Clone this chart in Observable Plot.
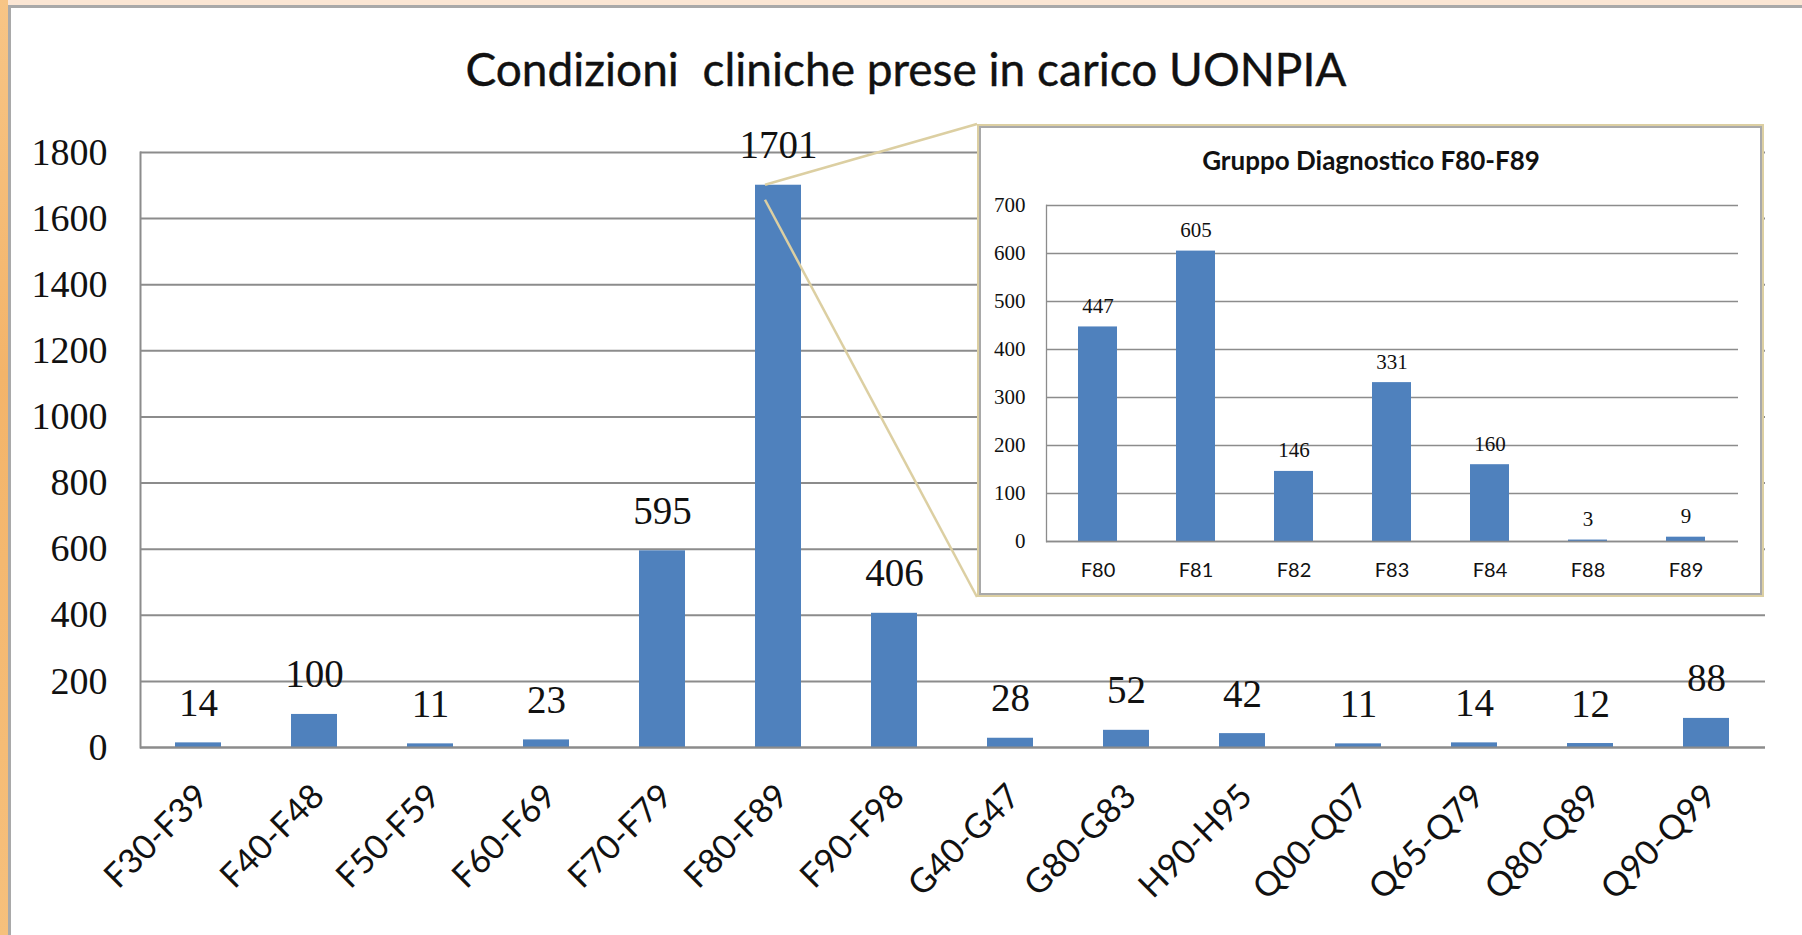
<!DOCTYPE html>
<html><head><meta charset="utf-8">
<script src="https://cdn.jsdelivr.net/npm/d3@7"></script>
<script src="https://cdn.jsdelivr.net/npm/@observablehq/plot@0.6"></script>
<style>
html,body{margin:0;padding:0;}
body{width:1802px;height:935px;overflow:hidden;background:#fbe6d4;}
#stage{position:relative;width:1802px;height:935px;overflow:hidden;}
#strip{position:absolute;left:0;top:0;width:8px;height:935px;background:linear-gradient(180deg,#f7c586,#f3b46a 40%,#f6c07c);}
#panel{position:absolute;left:8px;top:5px;width:1810px;height:940px;background:#fff;border-left:3px solid #a9a9a9;border-top:3px solid #a9a9a9;box-sizing:border-box;}
#title{position:absolute;left:0;top:46px;width:1812px;text-align:center;font-family:Lato,sans-serif;font-size:46px;line-height:46px;color:#111;white-space:pre;-webkit-text-stroke:0.4px #111;}
#main{position:absolute;left:0;top:0;}
#links{position:absolute;left:0;top:0;pointer-events:none;}
#inset{position:absolute;left:977px;top:124px;width:787px;height:473px;background:#fff;}
#insetBorder{position:absolute;left:977px;top:124px;width:787px;height:473px;box-sizing:border-box;border:2px solid #dccfa2;box-shadow:inset 0 0 0 2px #a9a9a9;pointer-events:none;}
</style></head>
<body>
<div id="stage">
  <div id="strip"></div>
  <div id="panel"></div>
  <div id="main"></div>
  <div id="title">Condizioni  cliniche prese in carico UONPIA</div>
  <svg id="links" width="1802" height="935"></svg>
  <div id="inset"></div>
  <div id="insetBorder"></div>
</div>
<script>
// ---- main chart data ----
const categories = ["F30-F39","F40-F48","F50-F59","F60-F69","F70-F79","F80-F89","F90-F98","G40-G47","G80-G83","H90-H95","Q00-Q07","Q65-Q79","Q80-Q89","Q90-Q99"];
const counts = [14,100,11,23,595,1701,406,28,52,42,11,14,12,88];
const yTicks = [0,200,400,600,800,1000,1200,1400,1600,1800];

// ---- inset data ----
const insetTitle = "Gruppo Diagnostico F80-F89";
const subCategories = ["F80","F81","F82","F83","F84","F88","F89"];
const subCounts = [447,605,146,331,160,3,9];
const subTicks = [0,100,200,300,400,500,600,700];

const zoomCategory = "F80-F89";

const mainData = categories.map((c,i)=>({cat:c, n:counts[i]}));
const subData = subCategories.map((c,i)=>({cat:c, n:subCounts[i]}));

const BLUE = "#4f81bd";
const GRID = "#8c8c8c";
const serif = "Liberation Serif, Times New Roman, serif";
const sans = "Lato, sans-serif";
const plain = d => String(d);

const main = Plot.plot({
  width:1802, height:935,
  marginLeft:140, marginRight:37, marginTop:152, marginBottom:188,
  style:{background:"transparent", overflow:"visible", color:"#111"},
  x:{domain:categories, paddingInner:0.6, paddingOuter:0.3, axis:null},
  y:{domain:[0,1800], axis:null},
  marks:[
    Plot.gridY(yTicks,{stroke:GRID, strokeOpacity:1, strokeWidth:2}),
    Plot.frame({anchor:"left", stroke:GRID, strokeWidth:2}),
    Plot.barY(mainData,{x:"cat", y:"n", fill:BLUE}),
    Plot.ruleY([0],{stroke:GRID, strokeWidth:2}),
    Plot.text(mainData,{x:"cat", y:"n", text:d=>String(d.n), dy:-27, lineAnchor:"bottom", fontSize:39, fontFamily:serif, fill:"#111"}),
    Plot.axisY(yTicks,{tickSize:0, tickPadding:33, tickFormat:plain, fontSize:38, fontFamily:serif, fill:"#111", label:null}),
    Plot.axisX(categories,{tickSize:0, tickPadding:0, tickRotate:-45, textAnchor:"end", lineAnchor:"middle", dy:43, dx:4, fontSize:34, fontFamily:sans, fill:"#111", label:null})
  ]
});
document.getElementById("main").appendChild(main);

const inset = Plot.plot({
  width:787, height:473,
  marginLeft:69, marginRight:26, marginTop:81, marginBottom:56,
  style:{background:"transparent", overflow:"visible", color:"#111"},
  x:{domain:subCategories, paddingInner:0.6, paddingOuter:0.3, axis:null},
  y:{domain:[0,700], axis:null},
  marks:[
    Plot.gridY(subTicks,{stroke:GRID, strokeOpacity:1, strokeWidth:1.3}),
    Plot.frame({anchor:"left", stroke:GRID, strokeWidth:1.3}),
    Plot.barY(subData,{x:"cat", y:"n", fill:BLUE}),
    Plot.ruleY([0],{stroke:GRID, strokeWidth:1.3}),
    Plot.text(subData,{x:"cat", y:"n", text:d=>String(d.n), dy:-14, lineAnchor:"bottom", fontSize:21, fontFamily:serif, fill:"#111"}),
    Plot.axisY(subTicks,{tickSize:0, tickPadding:21, tickFormat:plain, fontSize:21, fontFamily:serif, fill:"#111", label:null}),
    Plot.axisX(subCategories,{tickSize:0, tickPadding:21, fontSize:20, fontFamily:sans, fill:"#111", label:null}),
    Plot.text([insetTitle],{frameAnchor:"top", dy:-44, dx:-21.5, lineAnchor:"middle", fontSize:26, fontWeight:"bold", fontFamily:sans, fill:"#111"})
  ]
});
document.getElementById("inset").appendChild(inset);

// connector lines from the zoomed bar to the inset corners
const xs = main.scale("x"), ys = main.scale("y");
const bx = xs.apply(zoomCategory) + 10;
const by = ys.apply(counts[categories.indexOf(zoomCategory)]);
const box = {left:977, top:124, bottom:597};
const links = d3.select("#links");
links.append("line").attr("x1",bx).attr("y1",by).attr("x2",box.left).attr("y2",box.top)
  .attr("stroke","#dccfa2").attr("stroke-width",2.5);
links.append("line").attr("x1",bx).attr("y1",by+15).attr("x2",box.left).attr("y2",box.bottom)
  .attr("stroke","#dccfa2").attr("stroke-width",2.5);
</script>
</body></html>
